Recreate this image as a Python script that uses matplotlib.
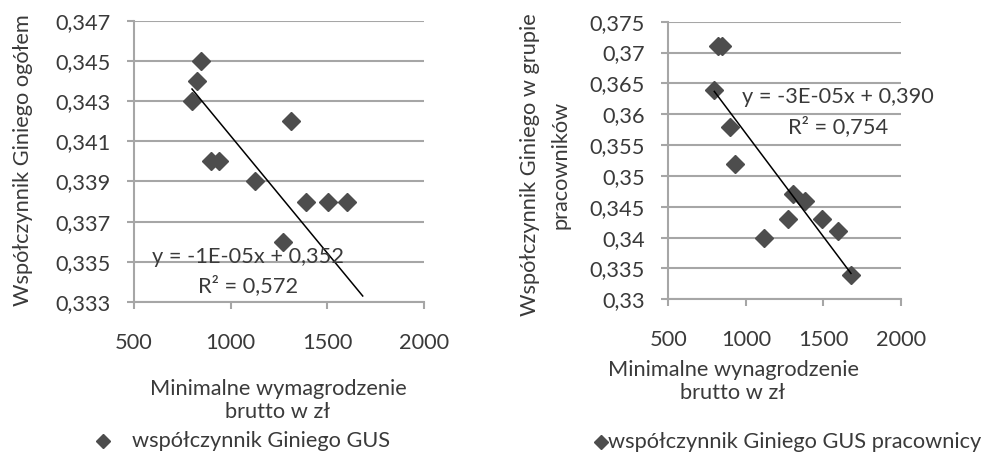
import matplotlib
matplotlib.use("Agg")
import matplotlib.pyplot as plt
from matplotlib.ticker import FixedLocator, FuncFormatter
from matplotlib.lines import Line2D

# dane - wykres 1 (ogółem)
wage_all = [845, 824, 800, 898, 939, 1127, 1314, 1272, 1388, 1503, 1600]
gini_all = [0.345, 0.344, 0.343, 0.340, 0.340, 0.339, 0.342, 0.336, 0.338, 0.338, 0.338]
trend_all_x = [800, 1683]
trend_all_y = [0.3436, 0.3333]
yticks_all = [0.333, 0.335, 0.337, 0.339, 0.341, 0.343, 0.345, 0.347]

# dane - wykres 2 (pracownicy)
wage_emp = [822, 844, 797, 898, 932, 1117, 1270, 1307, 1382, 1494, 1597, 1679]
gini_emp = [0.371, 0.371, 0.364, 0.358, 0.352, 0.340, 0.343, 0.347, 0.346, 0.343, 0.341, 0.334]
trend_emp_x = [797, 1679]
trend_emp_y = [0.3637, 0.3342]
yticks_emp = [0.33, 0.335, 0.34, 0.345, 0.35, 0.355, 0.36, 0.365, 0.37, 0.375]

xticks = [500, 1000, 1500, 2000]

FS = 15.7
TXT = "#3a3a3a"
GRID = "#a6a6a6"
MARK = "#4d4d4d"

plt.rcParams["font.family"] = ["Lato", "DejaVu Sans"]

W, H = 985, 455
fig = plt.figure(figsize=(W / 100, H / 100), dpi=100)


def px(x, y):
    return x / W, 1 - y / H


def comma_fmt(v, pos):
    s = f"{v:.3f}".rstrip("0")
    return s.replace(".", ",")


def style_ax(ax, yticks):
    ax.set_xlim(500, 2000)
    ax.set_ylim(yticks[0], yticks[-1])
    ax.xaxis.set_major_locator(FixedLocator(xticks))
    ax.yaxis.set_major_locator(FixedLocator(yticks))
    ax.yaxis.set_major_formatter(FuncFormatter(comma_fmt))
    ax.grid(True, axis="y", color=GRID, linewidth=1.5)
    ax.set_axisbelow(True)
    for s in ["top", "right"]:
        ax.spines[s].set_visible(False)
    for s in ["left", "bottom"]:
        ax.spines[s].set_color(GRID)
        ax.spines[s].set_linewidth(1.5)
    ax.tick_params(axis="both", direction="out", length=5, width=1.5, color=GRID,
                   labelsize=FS, labelcolor=TXT)
    ax.tick_params(axis="y", pad=12)
    ax.tick_params(axis="x", pad=17)


# wykres 1
ax1 = fig.add_axes([134 / W, 1 - 302 / H, 290 / W, 281.3 / H])
style_ax(ax1, yticks_all)
ax1.plot(wage_all, gini_all, linestyle="none", marker="D", markersize=9.5, color=MARK,
         clip_on=False, zorder=3)
ax1.plot(trend_all_x, trend_all_y, color="black", linewidth=1.1, zorder=4)
fig.text(*px(248, 257), "y = -1E-05x + 0,352", ha="center", va="center", fontsize=FS, color=TXT)
fig.text(*px(248, 286), "R² = 0,572", ha="center", va="center", fontsize=FS, color=TXT)

fig.text(*px(23, 160), "Współczynnik Giniego ogółem", rotation=90, ha="center", va="center",
         fontsize=FS, color=TXT)
fig.text(*px(278, 389), "Minimalne wymagrodzenie", ha="center", va="center", fontsize=FS, color=TXT)
fig.text(*px(278, 412), "brutto w zł", ha="center", va="center", fontsize=FS, color=TXT)

# wykres 2
ax2 = fig.add_axes([668.3 / W, 1 - 299.3 / H, 232.4 / W, 277.6 / H])
style_ax(ax2, yticks_emp)
ax2.plot(wage_emp, gini_emp, linestyle="none", marker="D", markersize=9.5, color=MARK,
         clip_on=False, zorder=3)
ax2.plot(trend_emp_x, trend_emp_y, color="black", linewidth=1.1, zorder=4)
fig.text(*px(838, 97), "y = -3E-05x + 0,390", ha="center", va="center", fontsize=FS, color=TXT)
fig.text(*px(838, 127), "R² = 0,754", ha="center", va="center", fontsize=FS, color=TXT)

fig.text(*px(530, 165), "Współczynnik Giniego w grupie", rotation=90, ha="center", va="center",
         fontsize=FS, color=TXT)
fig.text(*px(561, 165), "pracowników", rotation=90, ha="center", va="center",
         fontsize=FS, color=TXT)
fig.text(*px(733, 370), "Minimalne wynagrodzenie", ha="center", va="center", fontsize=FS, color=TXT)
fig.text(*px(733, 393), "brutto w zł", ha="center", va="center", fontsize=FS, color=TXT)

# legendy
fig.add_artist(Line2D([103 / W], [1 - 441 / H], marker="D", markersize=7, color=MARK,
                      linestyle="none"))
fig.text(*px(132, 441), "współczynnik Giniego GUS", ha="left", va="center", fontsize=FS, color=TXT)
fig.add_artist(Line2D([601 / W], [1 - 442 / H], marker="D", markersize=7, color=MARK,
                      linestyle="none"))
fig.text(*px(608, 442), "współczynnik Giniego GUS pracownicy", ha="left", va="center",
         fontsize=FS, color=TXT)

fig.savefig("out.png", dpi=100)
